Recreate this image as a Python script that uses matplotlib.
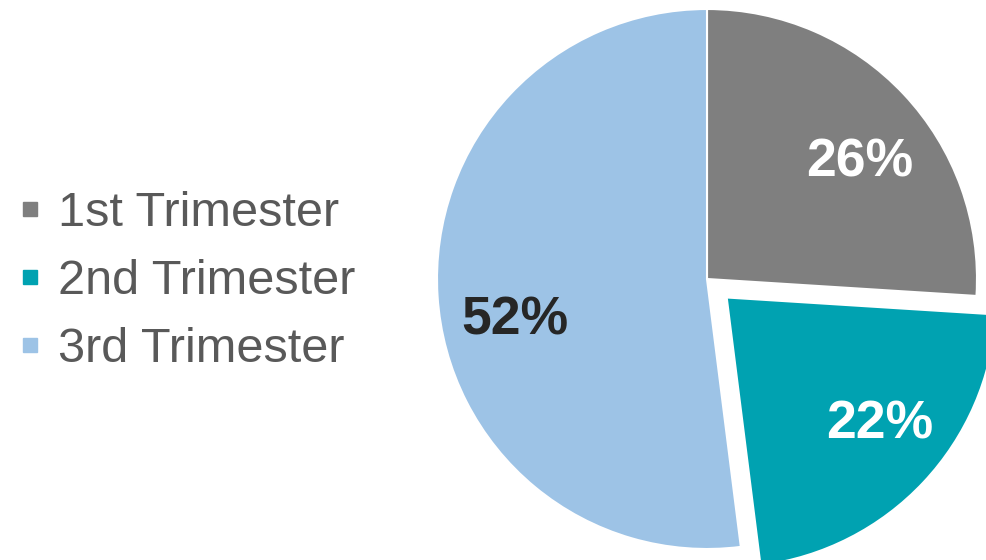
import matplotlib.pyplot as plt
from matplotlib.lines import Line2D

plt.rcParams['font.family'] = ['Liberation Sans', 'DejaVu Sans']

# datos del gráfico
trimestres = ['1st Trimester', '2nd Trimester', '3rd Trimester']
porcentajes = [26, 22, 52]
colores = ['#7f7f7f', '#00a2b1', '#9dc3e6']
explode = [0, 0.1, 0]
color_pct = ['white', 'white', '#262626']
# posición de cada etiqueta respecto al centro de su porción (radio = 1)
pos_etiquetas = [(0.567, 0.433), (0.568, -0.472), (-0.711, -0.152)]

fig = plt.figure(figsize=(9.86, 5.6), dpi=100)
ax = fig.add_axes([437 / 986, 11 / 560, 540 / 986, 540 / 560])

wedges, textos, pcts = ax.pie(
    porcentajes, colors=colores, explode=explode, startangle=90, counterclock=False,
    autopct='%1.0f%%', pctdistance=0.72,
    wedgeprops=dict(edgecolor='white', linewidth=1.5, clip_on=False),
    textprops=dict(fontsize=38.5, fontweight='bold'))
for w, t, c, p in zip(wedges, pcts, color_pct, pos_etiquetas):
    cx, cy = w.center
    t.set_position((cx + p[0], cy + p[1]))
    t.set_color(c)
    t.set_clip_on(False)
ax.set_xlim(-1, 1)
ax.set_ylim(-1, 1)
ax.set_aspect('equal')

# leyenda a la izquierda
handles = [Line2D([], [], marker='s', linestyle='none', markersize=9.5,
                  markerfacecolor=c, markeredgecolor=c) for c in colores]
fig.legend(handles, trimestres, loc='center left', bbox_to_anchor=(0.0186, 0.497),
           frameon=False, fontsize=35, labelcolor='#595959', handlelength=0.5,
           handletextpad=0.32, labelspacing=0.47, borderaxespad=0, borderpad=0)

plt.savefig('out.png', dpi=100)
